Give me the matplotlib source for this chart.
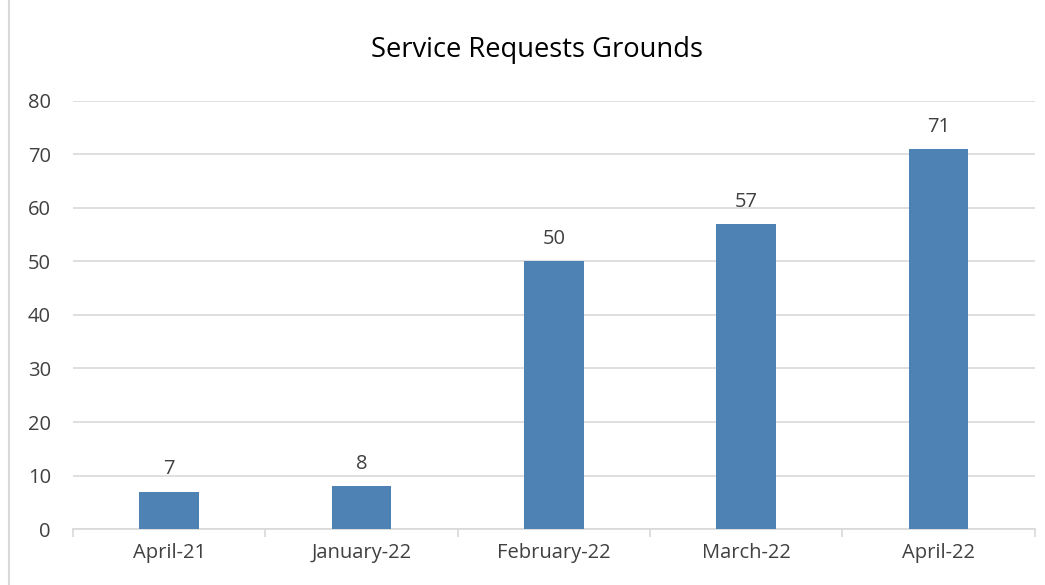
import matplotlib.pyplot as plt
from matplotlib.patches import Rectangle

# Service requests for grounds, per month
months = ['April-21', 'January-22', 'February-22', 'March-22', 'April-22']
requests = [7, 8, 50, 57, 71]
y_ticks = [0, 10, 20, 30, 40, 50, 60, 70, 80]

bar_color = '#4e81b4'
grid_color = '#d9d9d9'
text_color = '#404040'

plt.rcParams['font.family'] = ['Open Sans', 'DejaVu Sans']

fig = plt.figure(figsize=(10.45, 5.85), dpi=100)
ax = fig.add_axes([0.0699, 0.0957, 0.9201, 0.7317])

x = range(len(months))
ax.bar(x, requests, width=0.31, color=bar_color, zorder=3)
for xi, v in zip(x, requests):
    ax.annotate(str(v), (xi, v), xytext=(0, 9), textcoords='offset points',
                ha='center', va='bottom', fontsize=14.5, color=text_color)

ax.set_xlim(-0.5, len(months) - 0.5)
ax.set_ylim(0, 80)
ax.set_yticks(y_ticks)
ax.yaxis.grid(True, color=grid_color, linewidth=1.2, zorder=0)

ax.set_xticks(x)
ax.set_xticklabels(months)
ax.set_xticks([i - 0.5 for i in range(len(months) + 1)], minor=True)
ax.tick_params(axis='x', which='major', length=0, pad=10, labelsize=14.5, labelcolor=text_color)
ax.tick_params(axis='x', which='minor', length=6, color=grid_color, width=1.2)
ax.tick_params(axis='y', length=0, pad=16, labelsize=14.5, labelcolor=text_color)

for side in ['top', 'right', 'left']:
    ax.spines[side].set_visible(False)
ax.spines['bottom'].set_color(grid_color)
ax.spines['bottom'].set_linewidth(1.2)

fig.text(0.514, 0.915, 'Service Requests Grounds', ha='center', va='center',
         fontsize=19.7, color='black')

# chart border
fig.patches.append(Rectangle((0.009, -0.01), 1.0, 1.02, transform=fig.transFigure,
                             fill=False, edgecolor=grid_color, linewidth=1.5))

fig.savefig('out.png', dpi=100)
